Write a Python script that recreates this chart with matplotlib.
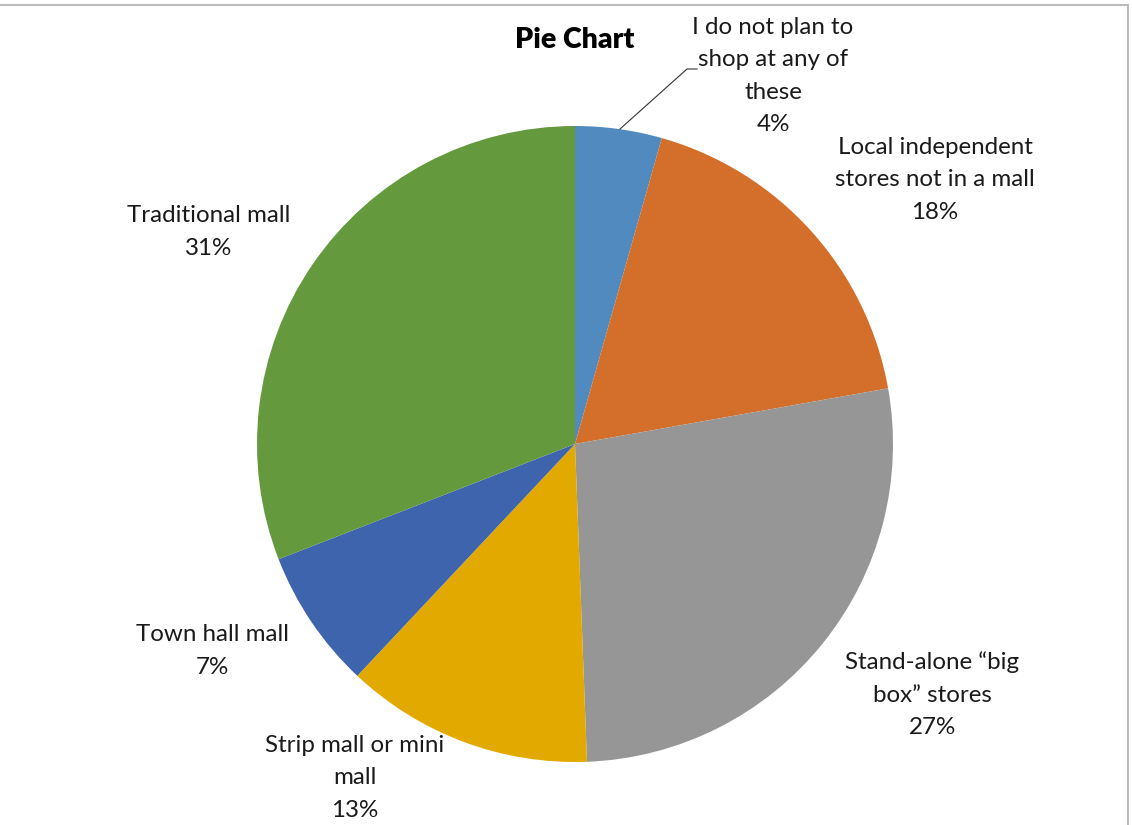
import matplotlib.pyplot as plt
from matplotlib.lines import Line2D

# slice data, clockwise from 12 o'clock
categories = ['I do not plan to\nshop at any of\nthese',
              'Local independent\nstores not in a mall',
              'Stand-alone \u201cbig\nbox\u201d stores',
              'Strip mall or mini\nmall',
              'Town hall mall',
              'Traditional mall']
values = [4.4, 17.8, 27.2, 12.6, 7.1, 30.9]
colors = ['#508ABE', '#D46F2B', '#969696', '#E2A900', '#3D64AD', '#64993E']

# label centres in pixel coords (x, y from top)
label_pos = [(773, 76), (935, 180), (932, 695), (355, 778), (212, 651), (209, 232)]

W, H = 1132, 825
plt.rcParams['font.family'] = ['Lato', 'DejaVu Sans']

fig = plt.figure(figsize=(W / 100, H / 100), dpi=100)
ax = fig.add_axes([0, 0, 1, 1])

ax.pie(values, colors=colors, startangle=90, counterclock=False,
       center=(575, H - 444), radius=318,
       wedgeprops=dict(linewidth=0))
ax.set_xlim(0, W)
ax.set_ylim(0, H)
ax.set_aspect('equal')
ax.axis('off')

for name, v, (x, y) in zip(categories, values, label_pos):
    ax.text(x, H - y, f'{name}\n{v:.0f}%', ha='center', va='center',
            fontsize=17.4, linespacing=1.68, color='#1a1a1a')

# leader line for the small slice
ax.plot([620, 687, 697], [H - 129, H - 69, H - 69], color='#333333', lw=0.8)

ax.text(575, H - 40, 'Pie Chart', ha='center', va='center',
        fontsize=20.5, fontweight='heavy', color='#000000')

# chart area border (top and right)
fig.add_artist(Line2D([0, 1128 / W], [1 - 5 / H, 1 - 5 / H], color='#BBBBBB', lw=1.5))
fig.add_artist(Line2D([1128 / W, 1128 / W], [0, 1 - 5 / H], color='#BBBBBB', lw=1.5))

fig.savefig('out.png', dpi=100)
